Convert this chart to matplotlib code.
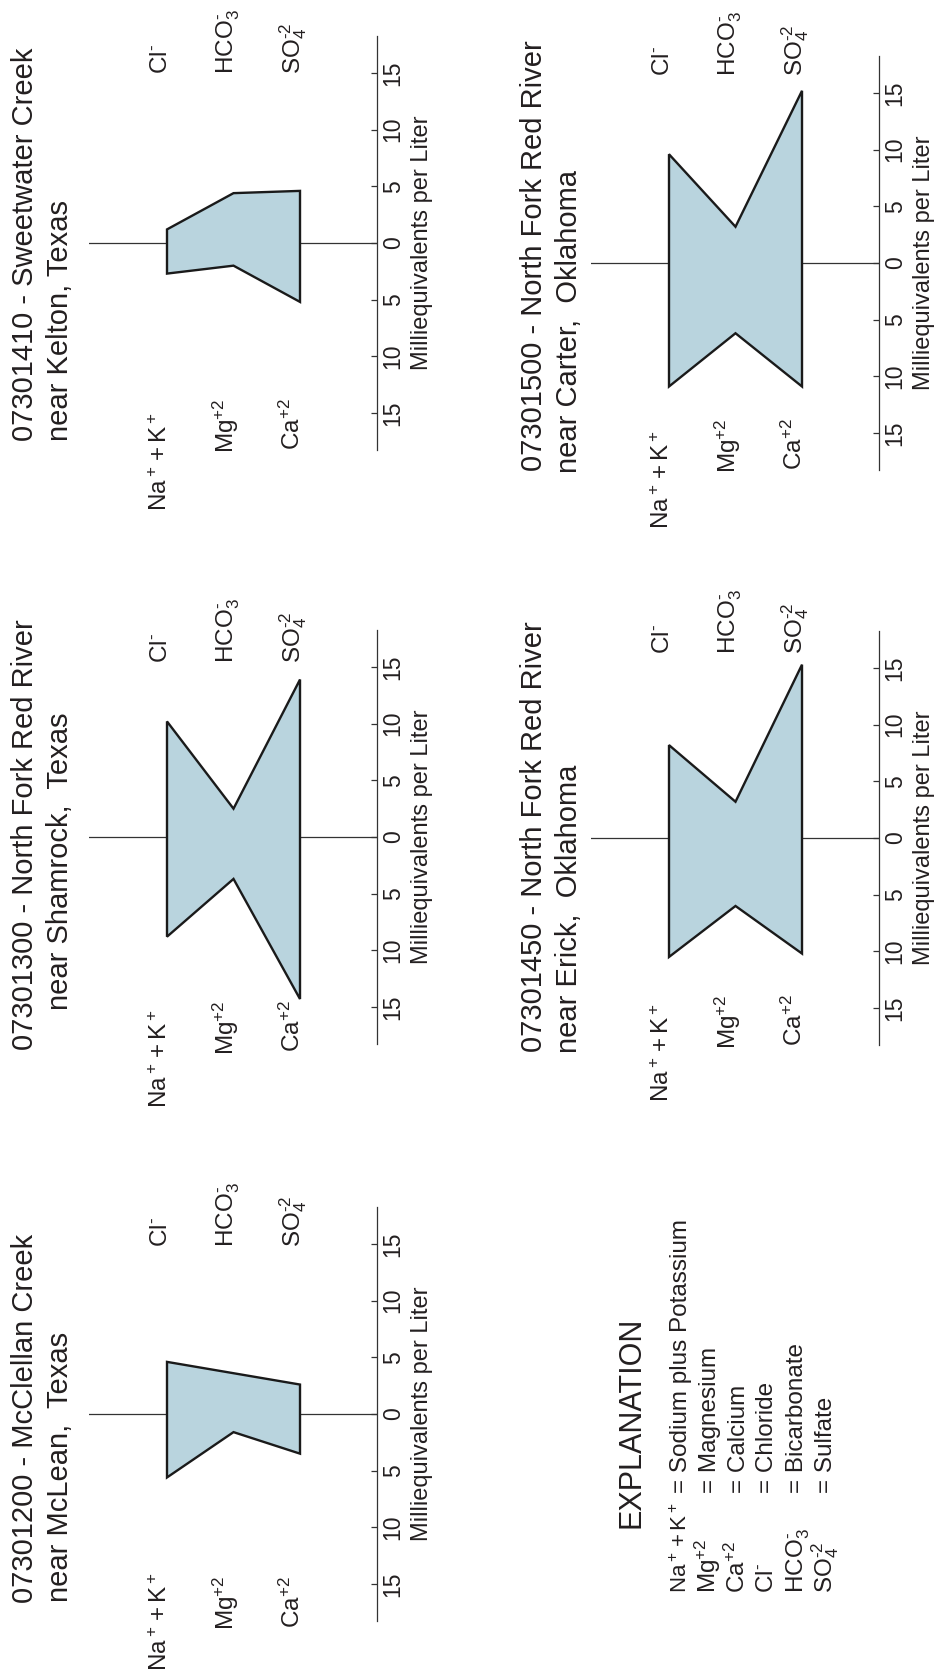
# Stiff diagrams for five sampling stations, drawn in portrait (page turned 90 degrees)
import matplotlib
matplotlib.use('Agg')
import matplotlib.pyplot as plt

plt.rcParams['font.family'] = ['Liberation Sans', 'DejaVu Sans']
plt.rcParams['mathtext.fontset'] = 'custom'
plt.rcParams['mathtext.rm'] = 'Liberation Sans'
plt.rcParams['mathtext.it'] = 'Liberation Sans:italic'
plt.rcParams['mathtext.default'] = 'regular'

# stations, in drawing order
station_line1 = ['07301410 - Sweetwater Creek', '07301500 - North Fork Red River',
                 '07301300 - North Fork Red River', '07301450 - North Fork Red River',
                 '07301200 - McClellan Creek']
station_line2 = ['near Kelton, Texas', 'near Carter,  Oklahoma', 'near Shamrock,  Texas',
                 'near Erick,  Oklahoma', 'near McLean,  Texas']

# milliequivalents per liter
na_k = [2.7, 10.9, 8.8, 10.5, 5.6]
mg = [2.0, 6.2, 3.7, 6.0, 1.6]
ca = [5.2, 10.9, 14.3, 10.2, 3.5]
cl = [1.2, 9.6, 10.2, 8.2, 4.6]
hco3 = [4.4, 3.2, 2.5, 3.2, 3.6]
so4 = [4.6, 15.2, 13.9, 15.3, 2.6]

cation_labels = [r'Na$^+$$\,$+$\,$K$^+$', r'Mg$^{+2}$', r'Ca$^{+2}$']
anion_labels = [r'Cl$^{\text{-}}$', r'HCO$_3^{\text{-}}$', r'SO$_4^{\text{-}2}$']
tick_values = [-15, -10, -5, 0, 5, 10, 15]

expl_symbols = [r'Na$^+$$\,$+$\,$K$^+$', r'Mg$^{+2}$', r'Ca$^{+2}$', r'Cl$^{\text{-}}$',
                r'HCO$_3^{\text{-}}$', r'SO$_4^{\text{-}2}$']
expl_names = ['= Sodium plus Potassium', '= Magnesium', '= Calcium', '= Chloride',
              '= Bicarbonate', '= Sulfate']

# layout (pixels on a 940 x 1680 page)
W, H = 940, 1680
panel_left = [89.2, 591.2, 89.2, 591.2, 89.2]
panel_zero = [243, 263, 837, 838, 1414]
panel_col = [0, 1, 0, 1, 0]
title_x = [(-2.015, -1.49), (-1.91, -1.38)]
title_start = [(-17.45, -17.5), (-18.4, -18.5), (-18.8, -15.3), (-18.9, -19.0), (-16.7, -16.6)]
na_label_end = [14.9, 14.8, 15.2, 14.6, 14.0]
cation_end = [13.7, 13.7, 14.45, 13.8, 14.3]
anion_start = [14.9, 16.5, 15.35, 16.2, 14.7]
row_px = 66.5
meq_px = 11.33
xlim = (-1.17, 3.16)
ylim = (-18.3, 18.3)

fill_c = '#b9d4de'
edge_c = '#1a1a1a'
line_c = '#333333'
text_c = '#231f20'

fig = plt.figure(figsize=(9.4, 16.8), dpi=100)

for i in range(len(na_k)):
    w = (xlim[1] - xlim[0]) * row_px
    h = (ylim[1] - ylim[0]) * meq_px
    top = panel_zero[i] - ylim[1] * meq_px
    ax = fig.add_axes([panel_left[i] / W, 1 - (top + h) / H, w / W, h / H])
    ax.set_xlim(xlim)
    ax.set_ylim(ylim)
    ax.patch.set_alpha(0)

    ax.axhline(0, color=line_c, lw=0.9, zorder=1)
    rows = [0, 1, 2, 2, 1, 0]
    vals = [-na_k[i], -mg[i], -ca[i], so4[i], hco3[i], cl[i]]
    ax.fill(rows, vals, facecolor=fill_c, edgecolor=edge_c, lw=1.7,
            joinstyle='miter', zorder=2)

    for s in ['top', 'left', 'bottom']:
        ax.spines[s].set_visible(False)
    ax.spines['right'].set_color(line_c)
    ax.spines['right'].set_linewidth(0.9)
    ax.set_xticks([])
    ax.yaxis.tick_right()
    ax.set_yticks(tick_values)
    ax.set_yticklabels([str(abs(t)) for t in tick_values])
    ax.tick_params(axis='y', direction='in', length=4, width=0.9, color=line_c,
                   pad=3.3, labelsize=16.5, labelrotation=90, labelcolor=text_c)
    for lbl in ax.get_yticklabels():
        lbl.set_va('center')
    ax.yaxis.set_label_position('right')
    ax.set_ylabel('Milliequivalents per Liter', fontsize=17, color=text_c)
    ax.yaxis.set_label_coords(1.117, 0.5)

    for r in range(3):
        end = na_label_end[i] if r == 0 else cation_end[i]
        ax.text(r, -end, cation_labels[r], rotation=90, rotation_mode='anchor',
                ha='right', va='baseline', fontsize=17.5, color=text_c)
        ax.text(r, anion_start[i], anion_labels[r], rotation=90, rotation_mode='anchor',
                ha='left', va='baseline', fontsize=17.5, color=text_c)

    tx = title_x[panel_col[i]]
    ax.text(tx[0], title_start[i][0], station_line1[i], rotation=90, rotation_mode='anchor',
            ha='left', va='baseline', fontsize=21, color=text_c)
    ax.text(tx[1], title_start[i][1], station_line2[i], rotation=90, rotation_mode='anchor',
            ha='left', va='baseline', fontsize=21, color=text_c)

# explanation block
fig.text(640 / W, 1 - 1528 / H, 'EXPLANATION', rotation=90, rotation_mode='anchor',
         ha='left', va='baseline', fontsize=22, color=text_c)
expl_x = [687, 716, 745, 773, 803, 832]
for k in range(len(expl_symbols)):
    fs = 16 if k == 0 else 17.5
    fig.text(expl_x[k] / W, 1 - 1593 / H, expl_symbols[k], rotation=90, rotation_mode='anchor',
             ha='left', va='baseline', fontsize=fs, color=text_c)
    fig.text(expl_x[k] / W, 1 - 1493 / H, expl_names[k], rotation=90, rotation_mode='anchor',
             ha='left', va='baseline', fontsize=17.5, color=text_c)

fig.savefig('out.png', dpi=100, facecolor='white')
